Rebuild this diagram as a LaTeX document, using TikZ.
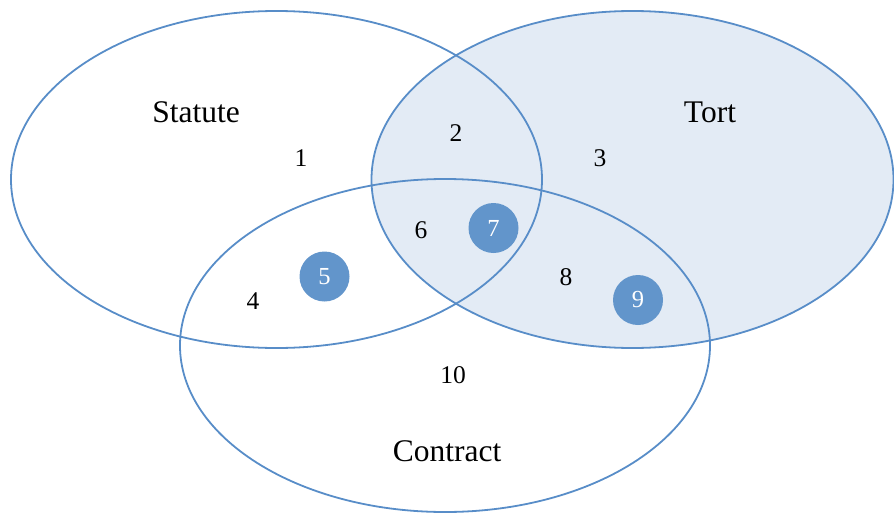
\documentclass[tikz,border=0pt]{standalone}
\usepackage{fontspec}
\setmainfont{Liberation Serif}
\definecolor{vline}{RGB}{88,141,200}
\definecolor{vfill}{RGB}{227,235,245}
\definecolor{dotfill}{RGB}{98,149,203}
\begin{document}
\begin{tikzpicture}[x=1pt,y=-1pt,
  setline/.style={draw=vline,line width=1.8pt},
  bigtxt/.style={font=\fontsize{31.5}{31.5}\selectfont,inner sep=0pt},
  numtxt/.style={font=\fontsize{25.5}{25.5}\selectfont,inner sep=0pt},
  dot/.style={circle,fill=dotfill,minimum size=50pt,inner sep=0pt,text=white,font=\fontsize{24.5}{24.5}\selectfont}]
\useasboundingbox (0,0) rectangle (894,514);
\begin{scope}
\clip (0,0) rectangle (894,514);
\fill[vfill] (632.5,179.5) ellipse [x radius=261, y radius=168.5];
\draw[setline] (632.5,179.5) ellipse [x radius=261, y radius=168.5];
\draw[setline] (276.5,179.5) ellipse [x radius=265.5, y radius=168.5];
\draw[setline] (445,345.5) ellipse [x radius=265, y radius=166.5];
\end{scope}
\node[bigtxt] (statute) at (196,112) {Statute};
\node[bigtxt] (tort) at (710,112) {Tort};
\node[bigtxt] (contract) at (447,451) {Contract};
\node[numtxt] (n1) at (301,158) {1};
\node[numtxt] (n2) at (456,133) {2};
\node[numtxt] (n3) at (600,158) {3};
\node[numtxt] (n4) at (253,301) {4};
\node[numtxt] (n6) at (421,230) {6};
\node[numtxt] (n8) at (566,277) {8};
\node[numtxt] (n10) at (453,375) {10};
\node[dot] (d5) at (324.5,276.5) {5};
\node[dot] (d7) at (493.5,228) {7};
\node[dot] (d9) at (638,300) {9};
\end{tikzpicture}
\end{document}
